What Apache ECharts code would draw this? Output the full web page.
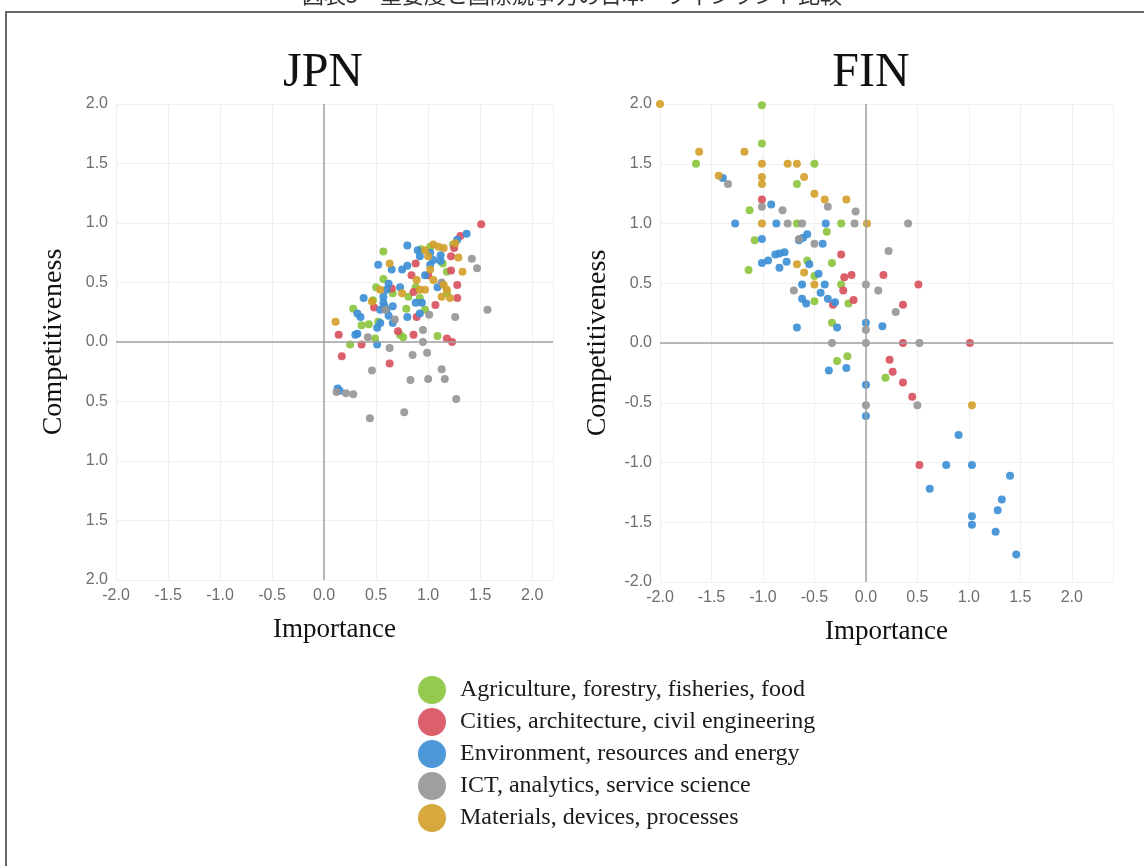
<!DOCTYPE html>
<html>
<head>
<meta charset="utf-8">
<script src="https://cdn.jsdelivr.net/npm/echarts@6/dist/echarts.min.js"></script>
<style>
  html, body { margin: 0; padding: 0; background: #fff; }
  #chart { width: 1144px; height: 866px; }
</style>
</head>
<body>
<div id="chart"></div>
<script>
// category names (legend)
const categories = [
  "Agriculture, forestry, fisheries, food",
  "Cities, architecture, civil engineering",
  "Environment, resources and energy",
  "ICT, analytics, service science",
  "Materials, devices, processes"
];
const colors = ["#8cc63f", "#d9515f", "#3d8fd6", "#979797", "#d2a12c"];
const axisTicks = [-2.0, -1.5, -1.0, -0.5, 0.0, 0.5, 1.0, 1.5, 2.0];

// JPN: [importance, competitiveness]
const jpnAgri = [[0.57,0.76],[0.93,0.78],[0.57,0.53],[0.50,0.46],[0.47,0.35],[0.28,0.28],[0.43,0.15],[0.52,0.17],
  [0.25,-0.02],[0.49,0.03],[0.73,0.06],[0.76,0.04],[1.09,0.05],[0.79,0.28],[0.81,0.38],[0.92,0.37],[0.97,0.27],
  [1.18,0.59],[1.14,0.66],[1.24,0.82],[0.88,0.46],[0.66,0.41],[1.18,0.41],[0.36,0.14],[1.02,0.80]];
const jpnCity = [[1.51,0.99],[1.31,0.89],[1.22,0.72],[1.22,0.60],[1.28,0.48],[1.28,0.37],[1.07,0.31],[0.88,0.66],
  [0.84,0.56],[0.86,0.42],[0.89,0.21],[0.65,0.45],[0.48,0.29],[0.71,0.09],[0.86,0.06],[0.14,0.06],[0.36,-0.02],
  [0.17,-0.12],[0.63,-0.18],[1.18,0.03],[1.23,0.00],[1.25,0.79],[1.00,0.56]];
const jpnEnv = [[0.13,-0.39],[0.15,-0.41],[1.37,0.91],[1.28,0.86],[0.80,0.81],[0.52,0.65],[0.65,0.61],[0.75,0.61],[0.80,0.64],
  [0.90,0.77],[1.02,0.75],[1.12,0.73],[1.12,0.68],[1.02,0.65],[0.97,0.56],[1.13,0.49],[0.62,0.49],[0.60,0.44],
  [0.57,0.38],[0.38,0.37],[0.57,0.33],[0.60,0.27],[0.66,0.30],[0.54,0.27],[0.32,0.24],[0.35,0.21],[0.54,0.16],
  [0.66,0.16],[0.80,0.21],[0.92,0.24],[0.88,0.33],[0.94,0.33],[0.32,0.07],[0.30,0.06],[0.51,-0.02],[1.09,0.46],
  [1.05,0.69],[0.92,0.72],[0.51,0.12],[0.73,0.46],[0.62,0.22],[0.58,0.30]];
const jpnIct = [[1.42,0.70],[1.47,0.62],[1.57,0.27],[1.26,0.21],[1.01,0.23],[0.95,0.10],[0.95,0.00],[0.99,-0.09],
  [0.85,-0.11],[0.63,-0.05],[0.42,0.04],[0.46,-0.24],[0.83,-0.32],[1.00,-0.31],[1.13,-0.23],[1.16,-0.31],
  [1.27,-0.48],[0.77,-0.59],[0.44,-0.64],[0.12,-0.42],[0.21,-0.43],[0.28,-0.44],[0.68,0.19],[0.59,0.27],[1.13,0.50]];
const jpnMat = [[0.11,0.17],[0.63,0.66],[1.33,0.59],[1.29,0.71],[1.05,0.82],[0.97,0.77],[1.00,0.72],[1.10,0.80],
  [1.15,0.79],[1.02,0.61],[1.05,0.52],[1.15,0.48],[1.18,0.44],[1.13,0.38],[0.97,0.44],[0.89,0.52],[0.75,0.41],
  [0.54,0.44],[0.46,0.34],[1.21,0.37],[0.92,0.44],[1.26,0.83]];

// FIN: [importance, competitiveness]
const finAgri = [[-1.01,1.99],[-1.01,1.67],[-1.65,1.50],[-0.50,1.50],[-0.67,1.33],[-1.13,1.11],[-0.67,1.00],
  [-0.24,1.00],[-0.38,0.93],[-1.08,0.86],[-1.14,0.61],[-0.57,0.69],[-0.33,0.67],[-0.24,0.49],[-0.50,0.35],
  [-0.17,0.33],[-0.33,0.17],[-0.28,-0.15],[-0.18,-0.11],[0.19,-0.29],[-0.50,0.56]];
const finCity = [[-1.01,1.20],[-0.24,0.74],[-0.21,0.55],[-0.14,0.57],[-0.22,0.44],[-0.32,0.32],[-0.12,0.36],
  [0.17,0.57],[0.51,0.49],[0.36,0.32],[0.36,0.00],[1.01,0.00],[0.23,-0.14],[0.26,-0.24],[0.36,-0.33],
  [0.45,-0.45],[0.52,-1.02]];
const finEnv = [[-1.39,1.38],[-0.92,1.16],[-1.27,1.00],[-0.87,1.00],[-0.39,1.00],[-1.01,0.87],[-0.57,0.91],
  [-0.61,0.88],[-0.65,0.86],[-0.42,0.83],[-0.79,0.76],[-0.84,0.75],[-0.88,0.74],[-0.95,0.69],[-1.01,0.67],
  [-0.77,0.68],[-0.84,0.63],[-0.55,0.66],[-0.46,0.58],[-0.62,0.49],[-0.40,0.49],[-0.44,0.42],[-0.62,0.37],
  [-0.58,0.33],[-0.37,0.37],[-0.30,0.34],[-0.67,0.13],[-0.28,0.13],[0.00,0.17],[0.16,0.14],[-0.36,-0.23],
  [-0.19,-0.21],[0.00,-0.35],[0.00,-0.61],[0.90,-0.77],[0.78,-1.02],[1.03,-1.02],[1.40,-1.11],[0.62,-1.22],
  [1.32,-1.31],[1.28,-1.40],[1.03,-1.45],[1.03,-1.52],[1.26,-1.58],[1.46,-1.77]];
const finIct = [[-1.34,1.33],[-1.01,1.14],[-0.81,1.11],[-0.37,1.14],[-0.10,1.10],[-0.76,1.00],[-0.62,1.00],
  [-0.11,1.00],[-0.50,0.83],[-0.70,0.44],[0.00,0.49],[0.12,0.44],[0.00,0.11],[-0.33,0.00],[0.00,0.00],
  [0.41,1.00],[0.22,0.77],[0.29,0.26],[0.52,0.00],[0.50,-0.52],[0.00,-0.52],[-0.65,0.87]];
const finMat = [[-2.00,2.00],[-1.62,1.60],[-1.18,1.60],[-1.01,1.50],[-0.76,1.50],[-0.67,1.50],[-0.60,1.39],
  [-1.01,1.39],[-1.01,1.33],[-1.43,1.40],[-0.50,1.25],[-0.40,1.20],[-0.19,1.20],[-1.01,1.00],[0.01,1.00],
  [-0.67,0.66],[-0.60,0.59],[-0.50,0.49],[1.03,-0.52]];

const jpnData = [jpnAgri, jpnCity, jpnEnv, jpnIct, jpnMat];
const finData = [finAgri, finCity, finEnv, finIct, finMat];

const chart = echarts.init(document.getElementById("chart"));

const serif = "Liberation Serif";
const isTick = v => axisTicks.some(t => Math.abs(t - v) < 1e-6);

const xAxisFor = (gridIndex, max) => ({
  gridIndex, type: "value", min: -2, max, interval: 0.5,
  axisLine: { show: false, onZero: false },
  axisTick: { show: false },
  axisLabel: { color: "#6e6e6e", fontSize: 16, margin: 8, formatter: v => isTick(v) ? v.toFixed(1) : "" },
  splitLine: { show: true, lineStyle: { color: "#f0f0f0" } },
  name: "Importance", nameLocation: "middle", nameGap: 36,
  nameTextStyle: { fontFamily: serif, fontSize: 27, color: "#111" }
});

const yAxisFor = (gridIndex, fmt) => ({
  gridIndex, type: "value", min: -2, max: 2, interval: 0.5,
  axisLine: { show: false, onZero: false },
  axisTick: { show: false },
  axisLabel: { color: "#6e6e6e", fontSize: 16, margin: 8, formatter: fmt },
  splitLine: { show: true, lineStyle: { color: "#f0f0f0" } },
  name: "Competitiveness", nameLocation: "middle", nameGap: 48, nameRotate: 90,
  nameTextStyle: { fontFamily: serif, fontSize: 28, color: "#111" }
});

// zero cross lines, drawn once per grid
const zeroLines = {
  silent: true, symbol: "none", label: { show: false },
  lineStyle: { color: "#a0a0a0", width: 1.5, type: "solid" },
  data: [{ xAxis: 0 }, { yAxis: 0 }]
};

const series = [];
[jpnData, finData].forEach((set, g) => {
  set.forEach((pts, i) => {
    series.push({
      name: categories[i], type: "scatter",
      xAxisIndex: g, yAxisIndex: g,
      data: pts, symbolSize: 8,
      itemStyle: { color: colors[i], opacity: 0.92 },
      markLine: i === 0 ? zeroLines : undefined,
      z: 3
    });
  });
});

const option = {
  animation: false,
  color: colors,
  title: [
    { text: "JPN", left: 318, top: 44, textAlign: "center",
      textStyle: { fontFamily: serif, fontSize: 48, fontWeight: "normal", color: "#111" } },
    { text: "FIN", left: 866, top: 44, textAlign: "center",
      textStyle: { fontFamily: serif, fontSize: 48, fontWeight: "normal", color: "#111" } }
  ],
  graphic: [
    { type: "rect", shape: { x: 6, y: 12, width: 1200, height: 900 },
      style: { fill: "none", stroke: "#666", lineWidth: 2 }, z: -1 },
    { type: "text", left: "center", top: -16,
      style: { text: "図表5　重要度と国際競争力の日本・フィンランド比較", font: "22px 'Noto Sans CJK JP'",
        fill: "#333" } }
  ],
  legend: {
    orient: "vertical", left: 413, top: 671,
    icon: "circle", itemWidth: 28, itemHeight: 28, itemGap: 4,
    data: categories,
    textStyle: { fontFamily: serif, fontSize: 24, color: "#1a1a1a", padding: [0, 0, 0, 9] }
  },
  grid: [
    { left: 116, top: 104, width: 437, height: 476 },
    { left: 660, top: 104, width: 453, height: 478 }
  ],
  xAxis: [xAxisFor(0, 2.2), xAxisFor(1, 2.4)],
  yAxis: [
    yAxisFor(0, v => isTick(v) ? Math.abs(v).toFixed(1) : ""),
    yAxisFor(1, v => isTick(v) ? v.toFixed(1) : "")
  ],
  series
};

chart.setOption(option);
</script>
</body>
</html>
